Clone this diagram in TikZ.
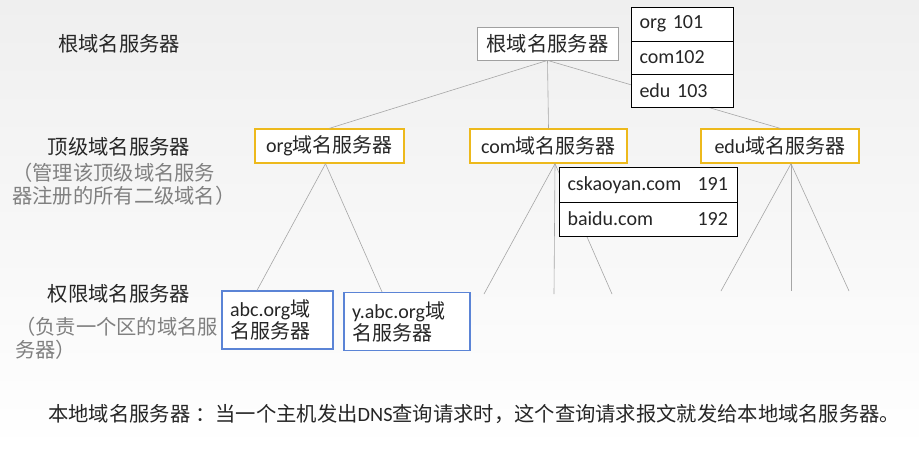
\documentclass[tikz,border=0pt]{standalone}
\usepackage{fontspec}
\setmainfont{Carlito}
\newfontfamily\zhfont{Noto Sans CJK SC}
\usepackage{tikz}
\usetikzlibrary{matrix}
\newcommand{\zh}[1]{{\zhfont #1}}
\definecolor{ink}{HTML}{262626}
\definecolor{note}{HTML}{808080}
\definecolor{wire}{HTML}{A6A6A6}
\definecolor{tldline}{HTML}{EDB91C}
\definecolor{authline}{HTML}{5B84D6}
\definecolor{rootline}{HTML}{A0A0A0}
\definecolor{bgtop}{HTML}{EFEFEF}

\begin{document}
\begin{tikzpicture}[x=1pt,y=-1pt,
  every node/.style={font=\fontsize{20}{22}\selectfont, text=ink},
  link/.style={draw=wire, line width=0.6pt},
  tld/.style={draw=tldline, line width=1.4pt, fill=white, minimum height=34pt},
  auth/.style={draw=authline, line width=1.2pt, fill=white, minimum height=58pt, inner xsep=8pt, align=left},
  level/.style={font=\zhfont\fontsize{20.3}{22}\selectfont, inner sep=0pt},
  aside/.style={font=\zhfont\fontsize{20.3}{23}\selectfont, text=note, anchor=west, align=left, inner sep=0pt},
]
\useasboundingbox (0,0) rectangle (919,451);
\shade[top color=bgtop, bottom color=white] (0,0) rectangle (919,451);

\node[level] (l-root) at (119,44) {根域名服务器};
\node[level] (l-top) at (119,147) {顶级域名服务器};
\node[aside] (l-top-note) at (12,184.5) {（管理该顶级域名服务\\器注册的所有二级域名）};
\node[level] (l-auth) at (119,294) {权限域名服务器};
\node[aside] (l-auth-note) at (15,338) {（负责一个区的域名服\\务器）};

\node[draw=rootline, line width=0.8pt, fill=white, minimum width=141pt, minimum height=33pt,
  font=\zhfont\fontsize{20.3}{22}\selectfont] (root) at (547.5,43.5) {根域名服务器};

\node[tld, minimum width=149pt] (org) at (329.5,146) {org\zh{域名服务器}};
\node[tld, minimum width=157pt] (com) at (548.5,146) {com\zh{域名服务器}};
\node[tld, minimum width=158pt] (edu) at (780,146) {edu\zh{域名服务器}};

\node[auth, text width=95pt] (abc) at (277.5,320) {abc.org\zh{域}\\\zh{名服务器}};
\node[auth, text width=110pt] (yabc) at (407,321.5) {y.abc.org\zh{域}\\\zh{名服务器}};

\foreach \i/\x in {1/484,2/554,3/612} \coordinate (com-leaf\i) at (\x,294);
\foreach \i/\x in {1/721,2/791,3/849} \coordinate (edu-leaf\i) at (\x,291);

\draw[link] (root.south) -- (org.north);
\draw[link] (root.south) -- (com.north);
\draw[link] (root.south) -- (edu.north);
\draw[link] ([xshift=-4pt]org.south) -- ([xshift=-20.5pt]abc.north);
\draw[link] ([xshift=-4pt]org.south) -- ([xshift=-25pt]yabc.north);
\foreach \i in {1,2,3} \draw[link] ([xshift=6.5pt]com.south) -- (com-leaf\i);
\foreach \i in {1,2,3} \draw[link] ([xshift=11pt]edu.south) -- (edu-leaf\i);

\matrix (tlds) [matrix of nodes, draw, line width=1pt, fill=white, inner xsep=8pt, inner ysep=0pt,
  anchor=north west,
  nodes={text width=86pt, minimum height=33.3pt, inner xsep=0pt, align=left},
] at (631,7) {
org 101 \\
com102 \\
edu 103 \\
};
\draw[line width=1pt] (tlds-1-1.south -| tlds.west) -- (tlds-1-1.south -| tlds.east);
\draw[line width=1pt] (tlds-2-1.south -| tlds.west) -- (tlds-2-1.south -| tlds.east);

\matrix (hosts) [matrix of nodes, draw, line width=1pt, fill=white, inner xsep=8pt, inner ysep=0pt,
  anchor=north west, column sep=10pt,
  nodes={minimum height=33.5pt, inner xsep=0pt, align=left},
  column 1/.style={nodes={text width=120pt}},
  column 2/.style={nodes={text width=32pt}},
] at (559,167) {
cskaoyan.com & 191 \\
baidu.com & 192 \\
};
\draw[line width=1pt] (hosts-1-1.south -| hosts.west) -- (hosts-1-1.south -| hosts.east);

\node[anchor=west, inner sep=0pt, font=\fontsize{20.3}{22}\selectfont] (local) at (48,414)
  {\zh{本地域名服务器\hspace{5pt}：当一个主机发出}DNS\zh{查询请求时，这个查询请求报文就发给本地域名服务器。}};
\end{tikzpicture}
\end{document}
